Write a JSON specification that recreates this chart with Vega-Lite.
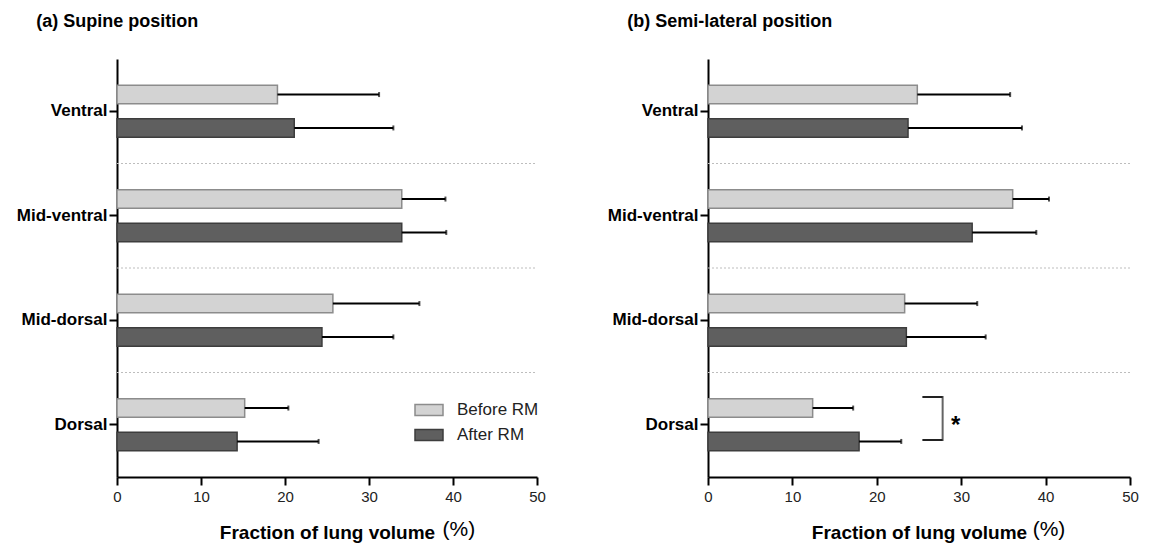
{
  "$schema": "https://vega.github.io/schema/vega-lite/v6.json",
  "padding": {"left": 16, "top": 13, "right": 5, "bottom": 5},
  "spacing": 61,
  "config": {
    "view": {"stroke": null},
    "font": "Liberation Sans",
    "axis": {"domainColor": "black", "domainWidth": 2, "tickColor": "black", "tickWidth": 2, "tickSize": 8, "grid": false, "labelFont": "Liberation Sans", "titleFont": "Liberation Sans"},
    "axisX": {"labelFontSize": 15, "labelColor": "#222222", "labelPadding": 4, "labelFlush": false, "titleFontSize": 19, "titleFontWeight": "bold", "titleColor": "black", "titlePadding": 19},
    "axisY": {"labelFontSize": 17, "labelFontWeight": "bold", "labelColor": "black", "labelPadding": 2},
    "title": {"font": "Liberation Sans", "fontSize": 18, "fontWeight": "bold", "color": "black", "anchor": "start", "frame": "bounds", "dx": 20, "offset": 28},
    "legend": {"orient": "none", "legendX": 297, "legendY": 336, "padding": 0, "symbolType": "M-1,-0.4H1V0.4H-1Z", "symbolSize": 784, "symbolStrokeWidth": 1.5, "labelFont": "Liberation Sans", "labelFontSize": 17, "labelColor": "#222222", "labelOffset": 13, "rowPadding": 1}
  },
  "datasets": {
    "bars": [
      {"panel": "a", "region": "Ventral", "group": "Before RM", "mean": 19.1, "upper": 31.2},
      {"panel": "a", "region": "Ventral", "group": "After RM", "mean": 21.1, "upper": 32.9},
      {"panel": "a", "region": "Mid-ventral", "group": "Before RM", "mean": 33.9, "upper": 39.1},
      {"panel": "a", "region": "Mid-ventral", "group": "After RM", "mean": 33.9, "upper": 39.2},
      {"panel": "a", "region": "Mid-dorsal", "group": "Before RM", "mean": 25.7, "upper": 36.0},
      {"panel": "a", "region": "Mid-dorsal", "group": "After RM", "mean": 24.4, "upper": 32.9},
      {"panel": "a", "region": "Dorsal", "group": "Before RM", "mean": 15.2, "upper": 20.4},
      {"panel": "a", "region": "Dorsal", "group": "After RM", "mean": 14.3, "upper": 24.0},
      {"panel": "b", "region": "Ventral", "group": "Before RM", "mean": 24.8, "upper": 35.8},
      {"panel": "b", "region": "Ventral", "group": "After RM", "mean": 23.7, "upper": 37.2},
      {"panel": "b", "region": "Mid-ventral", "group": "Before RM", "mean": 36.1, "upper": 40.4},
      {"panel": "b", "region": "Mid-ventral", "group": "After RM", "mean": 31.3, "upper": 38.9},
      {"panel": "b", "region": "Mid-dorsal", "group": "Before RM", "mean": 23.3, "upper": 31.9},
      {"panel": "b", "region": "Mid-dorsal", "group": "After RM", "mean": 23.5, "upper": 32.9},
      {"panel": "b", "region": "Dorsal", "group": "Before RM", "mean": 12.4, "upper": 17.2},
      {"panel": "b", "region": "Dorsal", "group": "After RM", "mean": 17.9, "upper": 22.9}
    ],
    "unit": [{"label": "(%)"}],
    "bracket": [{"region": "Dorsal", "start": 25.4, "end": 27.8, "label": "*"}]
  },
  "resolve": {"scale": {"fill": "independent", "stroke": "independent"}, "legend": {"fill": "independent", "stroke": "independent"}},
  "hconcat": [
    {
      "width": 420,
      "height": 418,
      "title": "(a) Supine position",
      "layer": [
        {
          "data": {"name": "bars"},
          "transform": [{"filter": "datum.panel === 'a' && datum.group === 'Before RM' && datum.region !== 'Ventral'"}],
          "mark": {"type": "rule", "color": "#bdbdbd", "strokeDash": [2, 2], "strokeWidth": 1},
          "encoding": {
            "y": {"field": "region", "type": "nominal", "bandPosition": 0, "title": null, "scale": {"domain": ["Ventral", "Mid-ventral", "Mid-dorsal", "Dorsal"], "paddingInner": 0, "paddingOuter": 0}},
            "x": {"datum": 0, "type": "quantitative", "scale": {"domain": [0, 50], "nice": false}, "axis": {"values": [0, 10, 20, 30, 40, 50], "title": "Fraction of lung volume"}},
            "x2": {"datum": 50}
          }
        },
        {
          "data": {"name": "bars"},
          "transform": [{"filter": "datum.panel === 'a'"}],
          "mark": {"type": "bar", "strokeWidth": 1.5},
          "encoding": {
            "y": {"field": "region", "type": "nominal", "title": null},
            "yOffset": {"field": "group", "type": "nominal", "scale": {"domain": ["Before RM", "After RM"], "paddingInner": 0.446, "paddingOuter": 0.788}},
            "x": {"field": "mean", "type": "quantitative"},
            "fill": {"field": "group", "type": "nominal", "title": null, "scale": {"domain": ["Before RM", "After RM"], "range": ["#d3d3d3", "#5f5f5f"]}},
            "stroke": {"field": "group", "type": "nominal", "title": null, "scale": {"domain": ["Before RM", "After RM"], "range": ["#8c8c8c", "#3d3d3d"]}}
          }
        },
        {
          "data": {"name": "bars"},
          "transform": [{"filter": "datum.panel === 'a'"}],
          "mark": {"type": "rule", "color": "black", "strokeWidth": 2},
          "encoding": {
            "y": {"field": "region", "type": "nominal"},
            "yOffset": {"field": "group", "type": "nominal"},
            "x": {"field": "mean", "type": "quantitative"},
            "x2": {"field": "upper"}
          }
        },
        {
          "data": {"name": "bars"},
          "transform": [{"filter": "datum.panel === 'a'"}],
          "mark": {"type": "tick", "orient": "vertical", "color": "black", "size": 5, "thickness": 2},
          "encoding": {
            "y": {"field": "region", "type": "nominal"},
            "yOffset": {"field": "group", "type": "nominal"},
            "x": {"field": "upper", "type": "quantitative"}
          }
        },
        {
          "data": {"name": "unit"},
          "mark": {"type": "text", "fontSize": 21, "color": "black", "dy": 105, "baseline": "middle", "align": "center"},
          "encoding": {
            "x": {"datum": 40.7, "type": "quantitative"},
            "y": {"datum": "Dorsal", "type": "nominal"},
            "text": {"field": "label", "type": "nominal"}
          }
        }
      ]
    },
    {
      "width": 422,
      "height": 418,
      "title": "(b) Semi-lateral position",
      "layer": [
        {
          "data": {"name": "bars"},
          "transform": [{"filter": "datum.panel === 'b' && datum.group === 'Before RM' && datum.region !== 'Ventral'"}],
          "mark": {"type": "rule", "color": "#bdbdbd", "strokeDash": [2, 2], "strokeWidth": 1},
          "encoding": {
            "y": {"field": "region", "type": "nominal", "bandPosition": 0, "title": null, "scale": {"domain": ["Ventral", "Mid-ventral", "Mid-dorsal", "Dorsal"], "paddingInner": 0, "paddingOuter": 0}},
            "x": {"datum": 0, "type": "quantitative", "scale": {"domain": [0, 50], "nice": false}, "axis": {"values": [0, 10, 20, 30, 40, 50], "title": "Fraction of lung volume"}},
            "x2": {"datum": 50}
          }
        },
        {
          "data": {"name": "bars"},
          "transform": [{"filter": "datum.panel === 'b'"}],
          "mark": {"type": "bar", "strokeWidth": 1.5},
          "encoding": {
            "y": {"field": "region", "type": "nominal", "title": null},
            "yOffset": {"field": "group", "type": "nominal", "scale": {"domain": ["Before RM", "After RM"], "paddingInner": 0.446, "paddingOuter": 0.788}},
            "x": {"field": "mean", "type": "quantitative"},
            "fill": {"field": "group", "type": "nominal", "legend": null, "scale": {"domain": ["Before RM", "After RM"], "range": ["#d3d3d3", "#5f5f5f"]}},
            "stroke": {"field": "group", "type": "nominal", "legend": null, "scale": {"domain": ["Before RM", "After RM"], "range": ["#8c8c8c", "#3d3d3d"]}}
          }
        },
        {
          "data": {"name": "bars"},
          "transform": [{"filter": "datum.panel === 'b'"}],
          "mark": {"type": "rule", "color": "black", "strokeWidth": 2},
          "encoding": {
            "y": {"field": "region", "type": "nominal"},
            "yOffset": {"field": "group", "type": "nominal"},
            "x": {"field": "mean", "type": "quantitative"},
            "x2": {"field": "upper"}
          }
        },
        {
          "data": {"name": "bars"},
          "transform": [{"filter": "datum.panel === 'b'"}],
          "mark": {"type": "tick", "orient": "vertical", "color": "black", "size": 5, "thickness": 2},
          "encoding": {
            "y": {"field": "region", "type": "nominal"},
            "yOffset": {"field": "group", "type": "nominal"},
            "x": {"field": "upper", "type": "quantitative"}
          }
        },
        {
          "data": {"name": "bracket"},
          "mark": {"type": "rule", "color": "#222222", "strokeWidth": 2, "yOffset": -27.75, "y2Offset": -27.75},
          "encoding": {
            "y": {"field": "region", "type": "nominal"},
            "x": {"field": "start", "type": "quantitative"},
            "x2": {"field": "end"}
          }
        },
        {
          "data": {"name": "bracket"},
          "mark": {"type": "rule", "color": "#222222", "strokeWidth": 2, "yOffset": 15.25, "y2Offset": 15.25},
          "encoding": {
            "y": {"field": "region", "type": "nominal"},
            "x": {"field": "start", "type": "quantitative"},
            "x2": {"field": "end"}
          }
        },
        {
          "data": {"name": "bracket"},
          "mark": {"type": "tick", "orient": "vertical", "color": "#222222", "size": 45, "thickness": 2, "yOffset": -6.25},
          "encoding": {
            "y": {"field": "region", "type": "nominal"},
            "x": {"field": "end", "type": "quantitative"}
          }
        },
        {
          "data": {"name": "bracket"},
          "mark": {"type": "text", "fontSize": 24, "fontWeight": "bold", "color": "black", "dx": 13, "dy": 1, "align": "center", "baseline": "middle"},
          "encoding": {
            "y": {"field": "region", "type": "nominal"},
            "x": {"field": "end", "type": "quantitative"},
            "text": {"field": "label", "type": "nominal"}
          }
        },
        {
          "data": {"name": "unit"},
          "mark": {"type": "text", "fontSize": 21, "color": "black", "dy": 105, "baseline": "middle", "align": "center"},
          "encoding": {
            "x": {"datum": 40.4, "type": "quantitative"},
            "y": {"datum": "Dorsal", "type": "nominal"},
            "text": {"field": "label", "type": "nominal"}
          }
        }
      ]
    }
  ]
}
